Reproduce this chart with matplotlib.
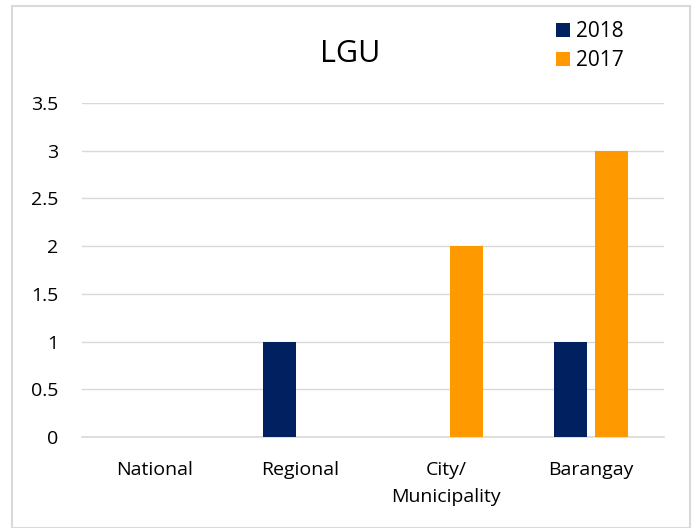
import numpy as np
import matplotlib.pyplot as plt
from matplotlib.patches import Rectangle

# data
categories = ['National', 'Regional', 'City/\nMunicipality', 'Barangay']
series_names = ['2018', '2017']
values_2018 = [0, 1, 0, 1]
values_2017 = [0, 0, 2, 3]
y_ticks = [0, 0.5, 1, 1.5, 2, 2.5, 3, 3.5]
y_tick_labels = ['0', '0.5', '1', '1.5', '2', '2.5', '3', '3.5']

navy = '#002060'
orange = '#FF9900'
grid_grey = '#D9D9D9'

plt.rcParams['font.family'] = ['Open Sans', 'DejaVu Sans']

fig = plt.figure(figsize=(6.97, 5.28), dpi=100)
ax = fig.add_axes([0.1177, 0.1723, 0.835, 0.6327])

x = np.arange(len(categories))
width = 0.227
offset = 0.142
ax.bar(x - offset, values_2018, width, color=navy, label=series_names[0], zorder=3)
ax.bar(x + offset, values_2017, width, color=orange, label=series_names[1], zorder=3)

ax.set_xlim(-0.5, len(categories) - 0.5)
ax.set_ylim(0, 3.5)
ax.set_yticks(y_ticks)
ax.set_yticklabels(y_tick_labels)
ax.set_xticks(x)
ax.set_xticklabels(categories, linespacing=1.7)
ax.tick_params(axis='both', length=0, labelsize=14, colors='black')
ax.tick_params(axis='y', pad=17)
ax.tick_params(axis='x', pad=17)

ax.grid(axis='y', color=grid_grey, linewidth=1, zorder=0)
for side in ['top', 'right', 'left']:
    ax.spines[side].set_visible(False)
ax.spines['bottom'].set_color(grid_grey)
ax.spines['bottom'].set_linewidth(1.2)

fig.text(350 / 697, 1 - 62 / 528, 'LGU', ha='center', va='baseline', fontsize=22)

ax.legend(loc='upper left', bbox_to_anchor=(556 / 697, 1 - 21 / 528),
          bbox_transform=fig.transFigure, frameon=False,
          fontsize=15, handlelength=0.67, handleheight=0.67,
          handletextpad=0.3, labelspacing=0.4, borderpad=0, borderaxespad=0)

# outer chart border
fig.patches.append(Rectangle((12 / 697, 0.0), (690 - 12) / 697, 1 - 6 / 528,
                             transform=fig.transFigure, fill=False,
                             edgecolor='#D9D9D9', linewidth=1.5))

plt.savefig('out.png', dpi=100)
